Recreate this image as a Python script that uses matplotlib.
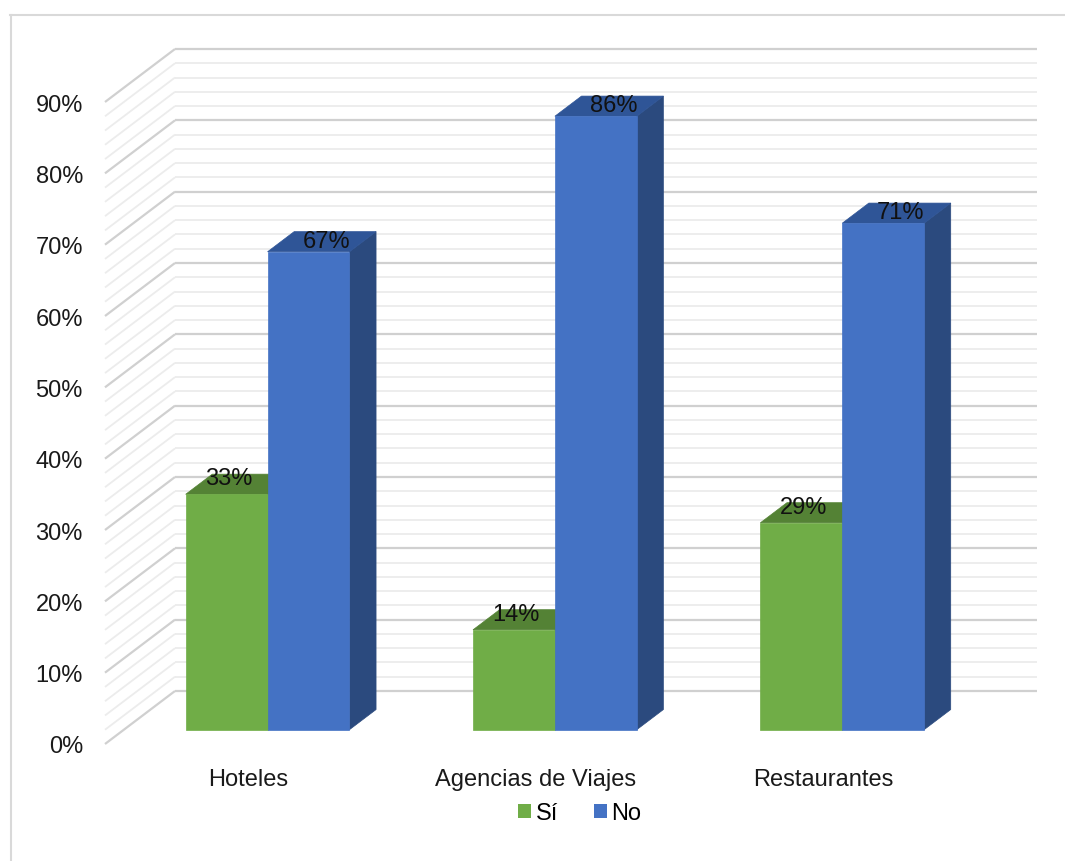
import matplotlib.pyplot as plt
from matplotlib.patches import Polygon, Rectangle, Patch
from matplotlib.lines import Line2D

plt.rcParams["font.family"] = ["Liberation Sans", "DejaVu Sans"]

categories = ["Hoteles", "Agencias de Viajes", "Restaurantes"]
si_values = [33, 14, 29]
no_values = [67, 86, 71]
series_names = ["Sí", "No"]
y_ticks = [0, 10, 20, 30, 40, 50, 60, 70, 80, 90]

W, H = 1065, 862
fig = plt.figure(figsize=(W / 100, H / 100), dpi=100)

# front plane of the 3D box: x in category units, y in percent
left_px, right_px, top_px, bottom_px = 105, 967, 103, 745
ax = fig.add_axes([left_px / W, 1 - bottom_px / H,
                   (right_px - left_px) / W, (bottom_px - top_px) / H])
ax.set_xlim(0, 3)
ax.set_ylim(0, 90)
ax.axis("off")

# oblique offset for the full depth of the box
px_x = (right_px - left_px) / 3
px_y = (bottom_px - top_px) / 90
DX = 70 / px_x
DY = 53 / px_y

# outer chart border (cut at the right and bottom)
fig.add_artist(Line2D([10 / W, 1.0], [1 - 15.5 / H, 1 - 15.5 / H],
                      color="#d9d9d9", lw=1.5, transform=fig.transFigure))
fig.add_artist(Line2D([10.5 / W, 10.5 / W], [0.0, 1 - 15.5 / H],
                      color="#d9d9d9", lw=1.5, transform=fig.transFigure))

# walls: back wall and left side wall gridlines, major every 10 %, minor every 2 %
for v in range(0, 91, 2):
    major = v % 10 == 0
    col = "#d0d0d0" if major else "#ececec"
    lw = 1.6 if major else 1.3
    ax.plot([DX, 3 + DX], [v + DY, v + DY], color=col, lw=lw,
            clip_on=False, zorder=1, solid_capstyle="butt")
    ax.plot([0, DX], [v, v + DY], color=col, lw=lw,
            clip_on=False, zorder=1, solid_capstyle="butt")

for v in y_ticks:
    ax.text(-0.077, v, f"{v}%", ha="right", va="center_baseline",
            fontsize=17, color="#1a1a1a")

# bars
bar_w = 0.285
d0, d1 = 0.27, 0.65  # bar depth span as a fraction of the box depth
styles = {
    "Sí": dict(front="#70ad47", top="#548235", side="#4e7a31"),
    "No": dict(front="#4472c4", top="#2f5597", side="#2b4a7e"),
}
label_shift = {"Sí": -0.04, "No": 0.015}
label_lift = {"Sí": 2.6, "No": 1.9}

z = 3
for i in range(len(categories)):
    for j, (name, vals) in enumerate(zip(series_names, [si_values, no_values])):
        v = vals[i]
        st = styles[name]
        x0 = i + 0.5 - bar_w + j * bar_w + d0 * DX
        x1 = x0 + bar_w
        y0 = d0 * DY
        ddx = (d1 - d0) * DX
        ddy = (d1 - d0) * DY
        # right side
        ax.add_patch(Polygon([(x1, y0), (x1 + ddx, y0 + ddy),
                              (x1 + ddx, y0 + v + ddy), (x1, y0 + v)],
                             closed=True, fc=st["side"], ec=st["side"], lw=0.5,
                             clip_on=False, zorder=z))
        # top
        ax.add_patch(Polygon([(x0, y0 + v), (x1, y0 + v),
                              (x1 + ddx, y0 + v + ddy), (x0 + ddx, y0 + v + ddy)],
                             closed=True, fc=st["top"], ec=st["top"], lw=0.5,
                             clip_on=False, zorder=z))
        # front
        ax.add_patch(Rectangle((x0, y0), bar_w, v, fc=st["front"],
                               ec=st["front"], lw=0.5, clip_on=False, zorder=z))
        z += 1
        ax.text((x0 + x1) / 2 + ddx / 2 + label_shift[name],
                y0 + v + label_lift[name], f"{v}%", ha="center",
                va="center_baseline", fontsize=17, color="#111111",
                zorder=20, clip_on=False)

for i, cat in enumerate(categories):
    ax.text(i + 0.5, -4.5, cat, ha="center", va="center_baseline",
            fontsize=17, color="#1a1a1a", clip_on=False)

handles = [Patch(fc=styles[n]["front"], ec="none") for n in series_names]
fig.legend(handles, series_names, loc="center", ncol=2, frameon=False,
           bbox_to_anchor=(580 / W, 1 - 814 / H), fontsize=17,
           handlelength=0.55, handleheight=0.55, handletextpad=0.2,
           columnspacing=1.5, borderpad=0)

fig.savefig("out.png", dpi=100)
